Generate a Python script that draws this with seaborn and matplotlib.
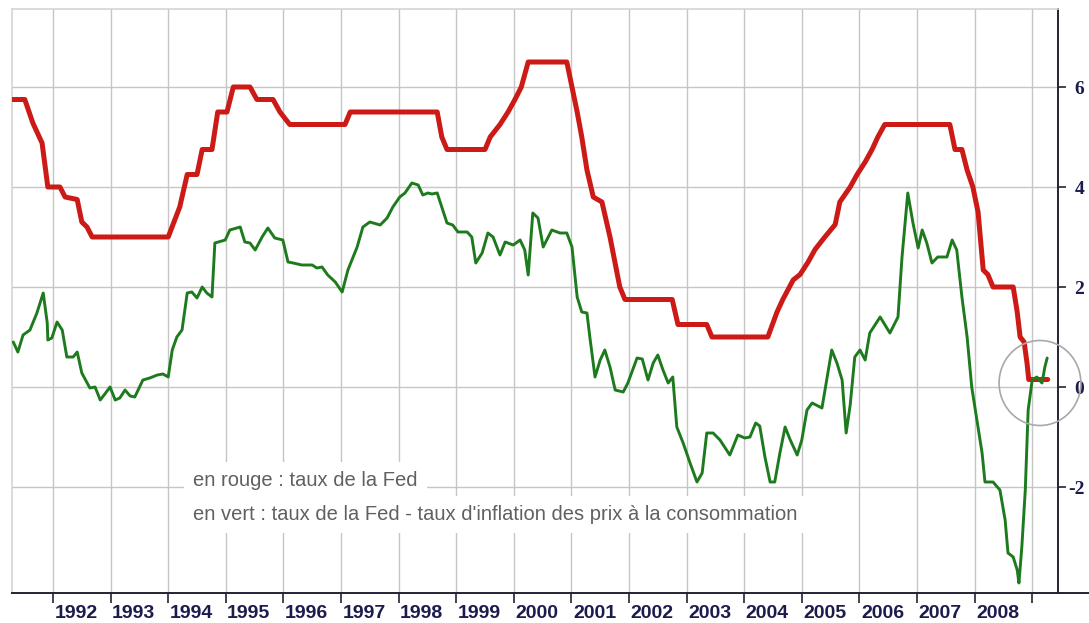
import pandas as pd
import seaborn as sns
import matplotlib.pyplot as plt
from matplotlib.patches import Ellipse

# Fed funds rate (red line), x in decimal years
fed_years = [1991.29, 1991.51, 1991.65, 1991.81, 1991.91, 1992.12, 1992.21, 1992.42, 1992.50, 1992.59,
             1992.68, 1994.00, 1994.20, 1994.33, 1994.50, 1994.59, 1994.76, 1994.86, 1995.02, 1995.13,
             1995.42, 1995.54, 1995.82, 1995.94, 1996.11, 1997.07, 1997.16, 1998.67, 1998.75, 1998.84,
             1999.50, 1999.59, 1999.76, 1999.90, 2000.02, 2000.13, 2000.25, 2000.92, 2001.01, 2001.10,
             2001.18, 2001.27, 2001.38, 2001.53, 2001.67, 2001.84, 2001.93, 2002.75, 2002.85, 2003.35,
             2003.44, 2004.41, 2004.57, 2004.67, 2004.85, 2004.97, 2005.11, 2005.23, 2005.40, 2005.58,
             2005.66, 2005.84, 2005.96, 2006.10, 2006.22, 2006.32, 2006.44, 2007.57, 2007.66, 2007.78,
             2007.87, 2007.97, 2008.06, 2008.15, 2008.23, 2008.32, 2008.67, 2008.74, 2008.79, 2008.86,
             2008.91, 2008.94, 2009.27]
fed_rate = [5.75, 5.75, 5.28, 4.88, 4.0, 4.0, 3.8, 3.75, 3.3, 3.2,
            3.0, 3.0, 3.6, 4.25, 4.25, 4.75, 4.75, 5.5, 5.5, 6.0,
            6.0, 5.75, 5.75, 5.5, 5.25, 5.25, 5.5, 5.5, 5.0, 4.75,
            4.75, 5.0, 5.25, 5.5, 5.75, 6.0, 6.5, 6.5, 6.0, 5.5,
            5.0, 4.34, 3.8, 3.7, 3.0, 2.0, 1.75, 1.75, 1.25, 1.25,
            1.0, 1.0, 1.5, 1.75, 2.14, 2.25, 2.5, 2.75, 3.0, 3.25,
            3.7, 4.0, 4.25, 4.5, 4.75, 5.0, 5.25, 5.25, 4.75, 4.75,
            4.34, 4.0, 3.5, 2.34, 2.25, 2.0, 2.0, 1.5, 1.0, 0.9,
            0.48, 0.15, 0.15]

# Fed rate minus consumer price inflation (green line)
real_years = [1991.31, 1991.39, 1991.48, 1991.60, 1991.72, 1991.83, 1991.90, 1991.91, 1991.98, 1992.07,
              1992.16, 1992.24, 1992.35, 1992.42, 1992.50, 1992.64, 1992.73, 1992.82, 1992.90, 1992.99,
              1993.08, 1993.16, 1993.25, 1993.34, 1993.42, 1993.56, 1993.68, 1993.81, 1993.91, 1994.00,
              1994.07, 1994.15, 1994.24, 1994.33, 1994.41, 1994.50, 1994.59, 1994.67, 1994.76, 1994.81,
              1994.99, 1995.07, 1995.25, 1995.33, 1995.42, 1995.51, 1995.63, 1995.73, 1995.85, 1995.99,
              1996.08, 1996.17, 1996.32, 1996.50, 1996.58, 1996.67, 1996.77, 1996.90, 1997.02, 1997.12,
              1997.28, 1997.38, 1997.50, 1997.68, 1997.80, 1997.90, 1998.02, 1998.11, 1998.23, 1998.34,
              1998.42, 1998.51, 1998.58, 1998.67, 1998.75, 1998.84, 1998.94, 1999.03, 1999.19, 1999.27,
              1999.34, 1999.45, 1999.55, 1999.64, 1999.76, 1999.85, 1999.99, 2000.11, 2000.19, 2000.25,
              2000.33, 2000.42, 2000.51, 2000.66, 2000.80, 2000.92, 2001.01, 2001.10, 2001.18, 2001.27,
              2001.32, 2001.41, 2001.50, 2001.58, 2001.67, 2001.76, 2001.90, 2001.98, 2002.14, 2002.23,
              2002.33, 2002.42, 2002.50, 2002.59, 2002.68, 2002.76, 2002.83, 2002.94, 2003.06, 2003.18,
              2003.27, 2003.35, 2003.46, 2003.58, 2003.75, 2003.89, 2004.01, 2004.10, 2004.20, 2004.27,
              2004.36, 2004.45, 2004.53, 2004.62, 2004.71, 2004.80, 2004.92, 2005.00, 2005.09, 2005.18,
              2005.35, 2005.44, 2005.52, 2005.61, 2005.70, 2005.77, 2005.84, 2005.92, 2006.01, 2006.10,
              2006.18, 2006.36, 2006.53, 2006.67, 2006.74, 2006.84, 2006.93, 2007.02, 2007.09, 2007.17,
              2007.26, 2007.36, 2007.52, 2007.61, 2007.69, 2007.78, 2007.87, 2007.95, 2008.04, 2008.13,
              2008.18, 2008.32, 2008.44, 2008.53, 2008.58, 2008.67, 2008.74, 2008.77, 2008.82, 2008.88,
              2008.93, 2009.00, 2009.08, 2009.17, 2009.22, 2009.26]
real_rate = [0.9, 0.7, 1.04, 1.14, 1.48, 1.88, 1.28, 0.94, 0.98, 1.3,
             1.14, 0.6, 0.6, 0.7, 0.28, -0.02, 0.0, -0.26, -0.14, 0.0,
             -0.26, -0.22, -0.06, -0.18, -0.2, 0.14, 0.18, 0.24, 0.26, 0.2,
             0.74, 1.0, 1.14, 1.88, 1.9, 1.78, 2.0, 1.88, 1.8, 2.88,
             2.94, 3.14, 3.2, 2.9, 2.88, 2.74, 3.0, 3.18, 2.98, 2.94,
             2.5, 2.48, 2.44, 2.44, 2.38, 2.4, 2.24, 2.1, 1.9, 2.34,
             2.8, 3.2, 3.3, 3.24, 3.38, 3.6, 3.8, 3.88, 4.08, 4.04,
             3.84, 3.88, 3.86, 3.88, 3.6, 3.28, 3.24, 3.1, 3.1, 3.0,
             2.48, 2.68, 3.08, 3.0, 2.64, 2.9, 2.84, 2.94, 2.74, 2.24,
             3.48, 3.38, 2.8, 3.14, 3.08, 3.08, 2.8, 1.8, 1.5, 1.48,
             1.0, 0.2, 0.54, 0.74, 0.4, -0.06, -0.1, 0.08, 0.58, 0.56,
             0.14, 0.48, 0.64, 0.34, 0.08, 0.2, -0.8, -1.12, -1.52, -1.9,
             -1.72, -0.92, -0.92, -1.06, -1.36, -0.96, -1.02, -1.0, -0.72, -0.78,
             -1.4, -1.9, -1.9, -1.32, -0.8, -1.06, -1.36, -1.06, -0.46, -0.32,
             -0.42, 0.2, 0.74, 0.48, 0.14, -0.92, -0.36, 0.6, 0.74, 0.54,
             1.08, 1.4, 1.08, 1.4, 2.6, 3.88, 3.28, 2.78, 3.14, 2.88,
             2.48, 2.6, 2.6, 2.94, 2.74, 1.8, 1.0, 0.0, -0.66, -1.32,
             -1.9, -1.9, -2.06, -2.66, -3.32, -3.4, -3.66, -3.92, -3.2, -2.06,
             -0.46, 0.14, 0.2, 0.08, 0.4, 0.58]

year_ticks = list(range(1992, 2010))
year_labels = [str(y) for y in range(1992, 2009)]
y_ticks = [-2, 0, 2, 4, 6]
notes = ["en rouge : taux de la Fed",
         "en vert : taux de la Fed - taux d'inflation des prix à la consommation"]

sns.set_style("white")
plt.rcParams['font.family'] = ['Liberation Sans', 'DejaVu Sans']
plt.rcParams['axes.unicode_minus'] = False

fig = plt.figure(figsize=(10.89, 6.23), dpi=100)
ax = fig.add_axes([12 / 1089, 30 / 623, 1046 / 1089, 584 / 623])

red_df = pd.DataFrame({"annee": fed_years, "taux": fed_rate})
green_df = pd.DataFrame({"annee": real_years, "taux": real_rate})
sns.lineplot(data=red_df, x="annee", y="taux", color="#cc1a16", linewidth=3.6,
             estimator=None, sort=False, ax=ax, zorder=5)
sns.lineplot(data=green_df, x="annee", y="taux", color="#1d7a1d", linewidth=2.1,
             estimator=None, sort=False, ax=ax, zorder=6)

ax.set_xlim(1991.288, 2009.448)
ax.set_ylim(-4.12, 7.56)
ax.set_xlabel("")
ax.set_ylabel("")

# x axis: ticks at year starts, labels in the middle of each year
navy = "#1b1b4d"
ax.set_xticks(year_ticks)
ax.set_xticklabels([])
ax.set_xticks([y + 0.4 for y in range(1992, 2009)], minor=True)
ax.set_xticklabels(year_labels, minor=True, fontsize=14, fontweight="bold", color=navy)
ax.tick_params(axis="x", which="major", direction="out", length=7, width=1.2, color="#222233", bottom=True)
ax.tick_params(axis="x", which="minor", length=0, pad=9)

# y axis on the right
ax.yaxis.tick_right()
ax.set_yticks(y_ticks)
ax.set_yticklabels([str(v) for v in y_ticks], fontsize=14, fontweight="bold",
                   color=navy, family=["Liberation Serif", "DejaVu Serif"])
ax.tick_params(axis="y", direction="out", length=6, width=1.2, color="#222233", right=True, pad=13)
for lbl in ax.get_yticklabels():
    lbl.set_horizontalalignment("right")

ax.grid(True, which="major", color="#c6c6c6", linewidth=1)

for side in ["top", "left"]:
    ax.spines[side].set_color("#d4d4d4")
    ax.spines[side].set_linewidth(1.2)
for side in ["bottom", "right"]:
    ax.spines[side].set_color("#222233")
    ax.spines[side].set_linewidth(1.4)
ax.plot([1, 1.04], [0, 0], transform=ax.transAxes, color="#222233", lw=1.4, clip_on=False)

# explanatory notes on white boxes
ax.text(0.173, 0.192, notes[0], transform=ax.transAxes, fontsize=14.5, color="#606060",
        ha="left", va="center", zorder=4,
        bbox=dict(boxstyle="square,pad=0.45", facecolor="white", edgecolor="none"))
ax.text(0.173, 0.134, notes[1], transform=ax.transAxes, fontsize=14.5, color="#606060",
        ha="left", va="center", zorder=4,
        bbox=dict(boxstyle="square,pad=0.45", facecolor="white", edgecolor="none"))

# circle around the end of the series
ax.add_patch(Ellipse((2009.135, 0.08), width=1.42, height=1.7, fill=False,
                     edgecolor="#a8a8a8", linewidth=1.2, clip_on=False, zorder=7))

fig.savefig("out.png", dpi=100)
